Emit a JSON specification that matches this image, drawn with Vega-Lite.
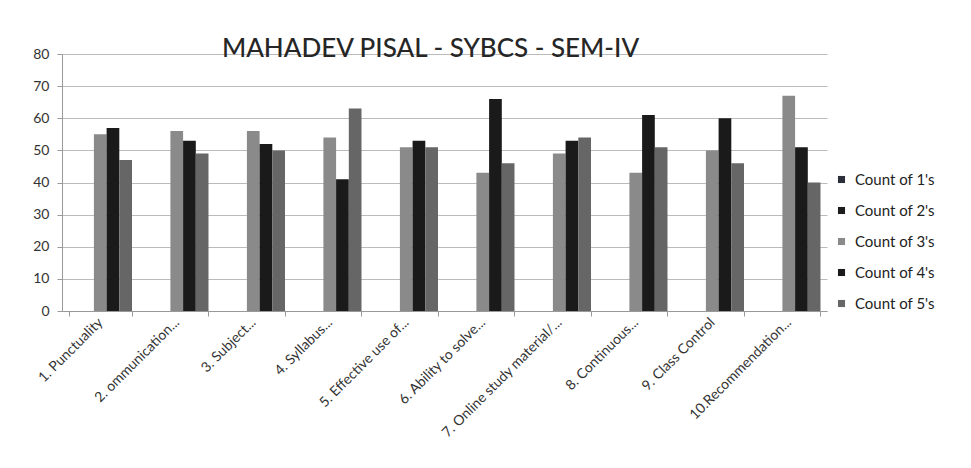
{
  "$schema": "https://vega.github.io/schema/vega-lite/v6.json",
  "autosize": "none",
  "padding": {"left": 62, "top": 54, "right": 144, "bottom": 157},
  "width": 765,
  "height": 257,
  "background": "white",
  "title": {
    "text": "MAHADEV PISAL - SYBCS - SEM-IV",
    "font": "Lato",
    "fontSize": 26,
    "fontWeight": 500,
    "color": "#262626",
    "anchor": "middle",
    "dx": -14,
    "baseline": "bottom",
    "offset": -41
  },
  "data": {
    "values": [
      {"q": "1. Punctuality", "s": "Count of 1's", "v": 0},
      {"q": "1. Punctuality", "s": "Count of 2's", "v": 0},
      {"q": "1. Punctuality", "s": "Count of 3's", "v": 55},
      {"q": "1. Punctuality", "s": "Count of 4's", "v": 57},
      {"q": "1. Punctuality", "s": "Count of 5's", "v": 47},
      {"q": "2. ommunication...", "s": "Count of 1's", "v": 0},
      {"q": "2. ommunication...", "s": "Count of 2's", "v": 0},
      {"q": "2. ommunication...", "s": "Count of 3's", "v": 56},
      {"q": "2. ommunication...", "s": "Count of 4's", "v": 53},
      {"q": "2. ommunication...", "s": "Count of 5's", "v": 49},
      {"q": "3. Subject...", "s": "Count of 1's", "v": 0},
      {"q": "3. Subject...", "s": "Count of 2's", "v": 0},
      {"q": "3. Subject...", "s": "Count of 3's", "v": 56},
      {"q": "3. Subject...", "s": "Count of 4's", "v": 52},
      {"q": "3. Subject...", "s": "Count of 5's", "v": 50},
      {"q": "4. Syllabus...", "s": "Count of 1's", "v": 0},
      {"q": "4. Syllabus...", "s": "Count of 2's", "v": 0},
      {"q": "4. Syllabus...", "s": "Count of 3's", "v": 54},
      {"q": "4. Syllabus...", "s": "Count of 4's", "v": 41},
      {"q": "4. Syllabus...", "s": "Count of 5's", "v": 63},
      {"q": "5. Effective use of...", "s": "Count of 1's", "v": 0},
      {"q": "5. Effective use of...", "s": "Count of 2's", "v": 0},
      {"q": "5. Effective use of...", "s": "Count of 3's", "v": 51},
      {"q": "5. Effective use of...", "s": "Count of 4's", "v": 53},
      {"q": "5. Effective use of...", "s": "Count of 5's", "v": 51},
      {"q": "6. Ability to solve...", "s": "Count of 1's", "v": 0},
      {"q": "6. Ability to solve...", "s": "Count of 2's", "v": 0},
      {"q": "6. Ability to solve...", "s": "Count of 3's", "v": 43},
      {"q": "6. Ability to solve...", "s": "Count of 4's", "v": 66},
      {"q": "6. Ability to solve...", "s": "Count of 5's", "v": 46},
      {"q": "7. Online study material/...", "s": "Count of 1's", "v": 0},
      {"q": "7. Online study material/...", "s": "Count of 2's", "v": 0},
      {"q": "7. Online study material/...", "s": "Count of 3's", "v": 49},
      {"q": "7. Online study material/...", "s": "Count of 4's", "v": 53},
      {"q": "7. Online study material/...", "s": "Count of 5's", "v": 54},
      {"q": "8. Continuous...", "s": "Count of 1's", "v": 0},
      {"q": "8. Continuous...", "s": "Count of 2's", "v": 0},
      {"q": "8. Continuous...", "s": "Count of 3's", "v": 43},
      {"q": "8. Continuous...", "s": "Count of 4's", "v": 61},
      {"q": "8. Continuous...", "s": "Count of 5's", "v": 51},
      {"q": "9. Class Control", "s": "Count of 1's", "v": 0},
      {"q": "9. Class Control", "s": "Count of 2's", "v": 0},
      {"q": "9. Class Control", "s": "Count of 3's", "v": 50},
      {"q": "9. Class Control", "s": "Count of 4's", "v": 60},
      {"q": "9. Class Control", "s": "Count of 5's", "v": 46},
      {"q": "10.Recommendation...", "s": "Count of 1's", "v": 0},
      {"q": "10.Recommendation...", "s": "Count of 2's", "v": 0},
      {"q": "10.Recommendation...", "s": "Count of 3's", "v": 67},
      {"q": "10.Recommendation...", "s": "Count of 4's", "v": 51},
      {"q": "10.Recommendation...", "s": "Count of 5's", "v": 40}
    ]
  },
  "mark": {"type": "bar"},
  "encoding": {
    "x": {
      "field": "q",
      "type": "nominal",
      "sort": null,
      "title": null,
      "scale": {"paddingInner": 0.17, "paddingOuter": 0.085},
      "axis": {
        "labelAngle": -45,
        "labelAlign": "right",
        "labelBaseline": "middle",
        "labelFont": "Lato",
        "labelFontSize": 14,
        "labelColor": "#333333",
        "labelPadding": 4,
        "tickBand": "extent",
        "tickColor": "#999999",
        "tickSize": 5,
        "domainColor": "#999999",
        "grid": false
      }
    },
    "xOffset": {"field": "s", "type": "nominal", "sort": null},
    "y": {
      "field": "v",
      "type": "quantitative",
      "title": null,
      "scale": {"domain": [0, 80], "nice": false},
      "axis": {
        "values": [0, 10, 20, 30, 40, 50, 60, 70, 80],
        "labelFont": "Lato",
        "labelFontSize": 14,
        "labelColor": "#333333",
        "labelPadding": 8,
        "gridColor": "#bbbbbb",
        "domainColor": "#999999",
        "tickColor": "#999999",
        "tickSize": 5
      }
    },
    "color": {
      "field": "s",
      "type": "nominal",
      "sort": null,
      "title": null,
      "scale": {
        "domain": ["Count of 1's", "Count of 2's", "Count of 3's", "Count of 4's", "Count of 5's"],
        "range": ["#2b2f3a", "#1c1c1c", "#8a8a8a", "#1a1a1a", "#666666"]
      },
      "legend": {
        "orient": "none",
        "legendX": 772,
        "legendY": 118,
        "symbolType": "square",
        "symbolSize": 50,
        "symbolStrokeWidth": 0,
        "labelFont": "Lato",
        "labelFontSize": 15,
        "labelColor": "#222222",
        "rowPadding": 15,
        "labelOffset": 6
      }
    }
  },
  "config": {"view": {"stroke": null}}
}
